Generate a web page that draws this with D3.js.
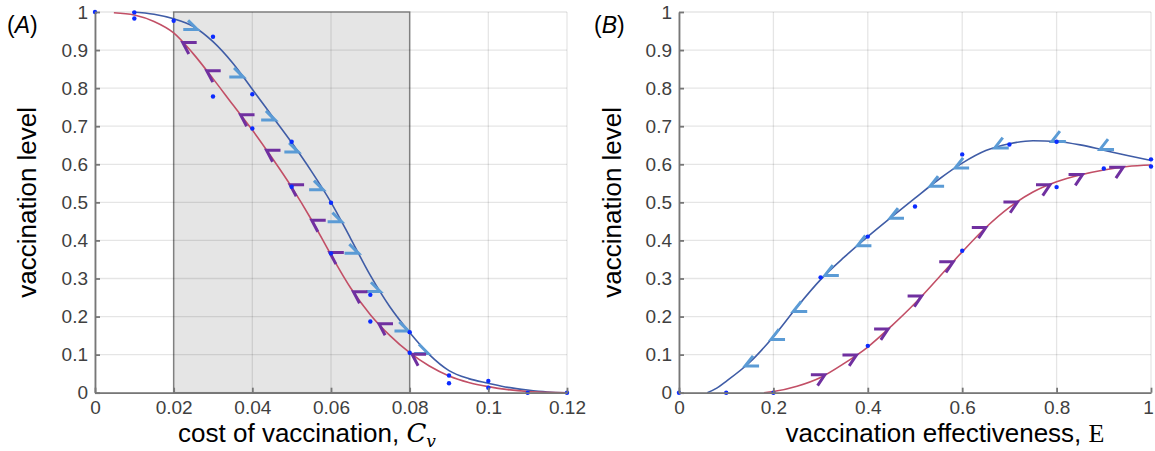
<!DOCTYPE html>
<meta charset="utf-8">
<style>
body { margin: 0; background: #fff; }
svg { display: block; }
.tick text { font: 19px "Liberation Sans", Arial, sans-serif; fill: #404040; }
.axis path, .axis line { stroke: #777; stroke-width: 1.8; }
.lab { font-family: "Liberation Sans", Arial, sans-serif; fill: #000; }
</style>
<svg width="1155" height="451"></svg>
<script src="https://cdn.jsdelivr.net/npm/d3@7"></script>
<script>
// ---- panel A : cost of vaccination
var costA  = [0.0095,0.015,0.02,0.025,0.03,0.035,0.04,0.045,0.05,0.055,0.06,0.065,0.07,0.075,0.08,0.085,0.09,0.095,0.1,0.105,0.11,0.115,0.12];
var upperA = [1.0,0.994,0.982,0.962,0.922,0.866,0.797,0.727,0.657,0.582,0.5,0.405,0.308,0.225,0.158,0.1,0.058,0.037,0.025,0.014,0.007,0.002,0.0];
var costA2 = [0.0048,0.01,0.015,0.02,0.025,0.03,0.035,0.04,0.045,0.05,0.055,0.06,0.065,0.07,0.075,0.08,0.085,0.09,0.095,0.1,0.105,0.11,0.115,0.12];
var lowerA = [0.998,0.992,0.975,0.945,0.89,0.825,0.757,0.69,0.617,0.54,0.455,0.362,0.275,0.205,0.15,0.105,0.07,0.044,0.027,0.016,0.008,0.003,0.001,0.0];
var simA = [[0,1],[0.01,0.999],[0.01,0.983],[0.02,0.977],[0.03,0.935],[0.03,0.778],[0.04,0.784],[0.04,0.694],
            [0.05,0.659],[0.05,0.541],[0.06,0.499],[0.06,0.366],[0.07,0.257],[0.07,0.187],[0.08,0.159],[0.08,0.105],
            [0.09,0.045],[0.09,0.025],[0.1,0.031],[0.1,0.013],[0.11,0.0],[0.12,0.0]];
var arrowsUpA = [[0.026,0.954],[0.0377,0.829],[0.0458,0.716],[0.0517,0.632],[0.058,0.533],[0.0627,0.449],[0.067,0.366],[0.0725,0.266],[0.0797,0.162],[0.0847,0.103]];
var arrowsLoA = [[0.0223,0.92],[0.0284,0.846],[0.037,0.73],[0.0436,0.637],[0.0496,0.546],[0.0551,0.453],[0.0597,0.368],[0.0657,0.265],[0.0722,0.181],[0.0806,0.101]];
var shadeA = [0.02, 0.08];

// ---- panel B : vaccination effectiveness
var effB   = [0.06,0.08,0.1,0.15,0.2,0.25,0.3,0.35,0.4,0.45,0.5,0.55,0.6,0.65,0.7,0.75,0.8,0.85,0.9,0.95,1.0];
var upperB = [0.0,0.012,0.03,0.08,0.147,0.225,0.297,0.356,0.41,0.461,0.511,0.56,0.603,0.636,0.654,0.662,0.66,0.651,0.637,0.623,0.61];
var effB2  = [0.18,0.2,0.25,0.3,0.35,0.4,0.45,0.5,0.55,0.6,0.65,0.7,0.75,0.8,0.85,0.9,0.95,1.0];
var lowerB = [0.0,0.003,0.017,0.04,0.077,0.12,0.175,0.235,0.302,0.37,0.434,0.487,0.527,0.554,0.572,0.585,0.594,0.598];
var simB = [[0,0],[0.1,0],[0.2,0],[0.3,0.303],[0.4,0.41],[0.4,0.123],[0.5,0.489],[0.6,0.626],[0.6,0.373],
            [0.7,0.652],[0.8,0.659],[0.8,0.54],[0.9,0.589],[1.0,0.613],[1.0,0.594]];
var arrowsUpB = [[0.14,0.07],[0.195,0.14],[0.242,0.213],[0.309,0.308],[0.378,0.386],[0.447,0.458],[0.532,0.542],[0.585,0.59],[0.669,0.643],[0.79,0.66],[0.892,0.639]];
var arrowsLoB = [[0.309,0.047],[0.376,0.099],[0.443,0.167],[0.514,0.254],[0.581,0.344],[0.65,0.434],[0.717,0.501],[0.786,0.546],[0.855,0.573],[0.941,0.592]];

// ---- ticks
var yTicks = [0,0.1,0.2,0.3,0.4,0.5,0.6,0.7,0.8,0.9,1];
var yTickLabels = ["0","0.1","0.2","0.3","0.4","0.5","0.6","0.7","0.8","0.9","1"];
var xTicksA = [0,0.02,0.04,0.06,0.08,0.1,0.12];
var xTickLabelsA = ["0","0.02","0.04","0.06","0.08","0.1","0.12"];
var xTicksB = [0,0.2,0.4,0.6,0.8,1];
var xTickLabelsB = ["0","0.2","0.4","0.6","0.8","1"];

var svg = d3.select("svg");
var blue = "#3f5ca6", red = "#c24f66", lightBlue = "#5b9bd5", purple = "#7030a0", dotCol = "#0b2bff";

function zip(xs, ys) { return xs.map(function(v, i) { return [v, ys[i]]; }); }

function panel(cfg) {
  var x = d3.scaleLinear().domain(cfg.xDomain).range(cfg.xRange);
  var y = d3.scaleLinear().domain([0, 1]).range([392.7, 12]);
  var g = svg.append("g");

  if (cfg.shade) {
    g.append("rect")
      .attr("x", x(cfg.shade[0])).attr("y", y(1))
      .attr("width", x(cfg.shade[1]) - x(cfg.shade[0]))
      .attr("height", y(0) - y(1))
      .attr("fill", "#e5e5e5").attr("stroke", "#8e8e8e").attr("stroke-width", 1.5);
  }

  // grid
  g.selectAll(".gy").data(yTicks).enter().append("line")
    .attr("x1", cfg.xRange[0]).attr("x2", cfg.xRange[1])
    .attr("y1", function(d) { return y(d); }).attr("y2", function(d) { return y(d); })
    .attr("stroke", "#000").attr("stroke-opacity", 0.1).attr("stroke-width", 1.3);
  g.selectAll(".gx").data(cfg.xTicks).enter().append("line")
    .attr("y1", y(0)).attr("y2", y(1))
    .attr("x1", function(d) { return x(d); }).attr("x2", function(d) { return x(d); })
    .attr("stroke", "#000").attr("stroke-opacity", 0.1).attr("stroke-width", 1.3);

  var line = d3.line().x(function(d) { return x(d[0]); }).y(function(d) { return y(d[1]); })
    .curve(d3.curveMonotoneX);
  g.append("path").datum(cfg.upper).attr("d", line)
    .attr("fill", "none").attr("stroke", blue).attr("stroke-width", 1.6);
  g.append("path").datum(cfg.lower).attr("d", line)
    .attr("fill", "none").attr("stroke", red).attr("stroke-width", 1.6);

  // half arrow heads along the branches
  function arrows(data, col, hx, vy, ang) {
    var a = ang * Math.PI / 180;
    g.selectAll(null).data(data).enter().append("path")
      .attr("d", function(d) {
        var px = x(d[0]), py = y(d[1]);
        return "M" + (px + hx * 14) + "," + py + "L" + px + "," + py +
               "L" + (px + hx * 13 * Math.cos(a)) + "," + (py + vy * 13 * Math.sin(a));
      })
      .attr("fill", "none").attr("stroke", col).attr("stroke-width", 3);
  }
  arrows(cfg.arrowsUp, lightBlue, cfg.upDir, -1, cfg.upAng);
  arrows(cfg.arrowsLo, purple, -cfg.upDir, 1, cfg.loAng);

  g.selectAll(".dot").data(cfg.sim).enter().append("circle")
    .attr("cx", function(d) { return x(d[0]); }).attr("cy", function(d) { return y(d[1]); })
    .attr("r", 2.2).attr("fill", dotCol);

  // axes
  g.append("g").attr("class", "axis")
    .attr("transform", "translate(" + cfg.xRange[0] + ",0)")
    .call(d3.axisLeft(y).tickValues(yTicks).tickFormat(function(d, i) { return yTickLabels[i]; })
      .tickSizeInner(-5).tickSizeOuter(0).tickPadding(7));
  var xa = g.append("g").attr("class", "axis")
    .attr("transform", "translate(0," + y(0) + ")")
    .call(d3.axisBottom(x).tickValues(cfg.xTicks).tickFormat(function(d, i) { return cfg.xLabels[i]; })
      .tickSizeInner(-5).tickSizeOuter(0).tickPadding(8));
  xa.selectAll(".tick text").filter(function(d, i, n) { return i === n.length - 1; }).attr("dx", cfg.lastDx);

  // labels
  var pl = svg.append("text").attr("class", "lab").attr("x", cfg.tagX).attr("y", 33)
    .style("font-size", "23px");
  pl.append("tspan").text("(");
  pl.append("tspan").style("font-style", "italic").text(cfg.tag);
  pl.append("tspan").text(")");

  svg.append("text").attr("class", "lab")
    .attr("transform", "translate(" + cfg.yLabX + "," + (y(0.5)) + ") rotate(-90)")
    .attr("text-anchor", "middle").style("font-size", "26px")
    .text("vaccination level");

  var xl = svg.append("text").attr("class", "lab")
    .attr("x", cfg.xLabX).attr("y", 442).attr("text-anchor", "middle").style("font-size", "26px");
  xl.append("tspan").text(cfg.xLabel);
  cfg.xSym(xl);
}

panel({
  xDomain: [0, 0.12], xRange: [95, 567], xTicks: xTicksA, xLabels: xTickLabelsA, lastDx: 0,
  shade: shadeA, upper: zip(costA, upperA), lower: zip(costA2, lowerA), sim: simA,
  arrowsUp: arrowsUpA, arrowsLo: arrowsLoA, upDir: -1, upAng: 45, loAng: 62,
  tag: "A", tagX: 7, yLabX: 36, xLabX: 307,
  xLabel: "cost of vaccination, ",
  xSym: function(t) {
    t.append("tspan").style("font-family", "'DejaVu Serif', serif").style("font-style", "italic").text("C");
    t.append("tspan").style("font-family", "'DejaVu Serif', serif").style("font-style", "italic")
      .style("font-size", "17px").attr("dy", 5).text("v");
  }
});

panel({
  xDomain: [0, 1], xRange: [679, 1151], xTicks: xTicksB, xLabels: xTickLabelsB, lastDx: -3,
  shade: null, upper: zip(effB, upperB), lower: zip(effB2, lowerB), sim: simB,
  arrowsUp: arrowsUpB, arrowsLo: arrowsLoB, upDir: 1, upAng: 52, loAng: 56,
  tag: "B", tagX: 594, yLabX: 621, xLabX: 945,
  xLabel: "vaccination effectiveness, ",
  xSym: function(t) {
    t.append("tspan").style("font-family", "'Liberation Serif', serif").text("E");
  }
});
</script>
